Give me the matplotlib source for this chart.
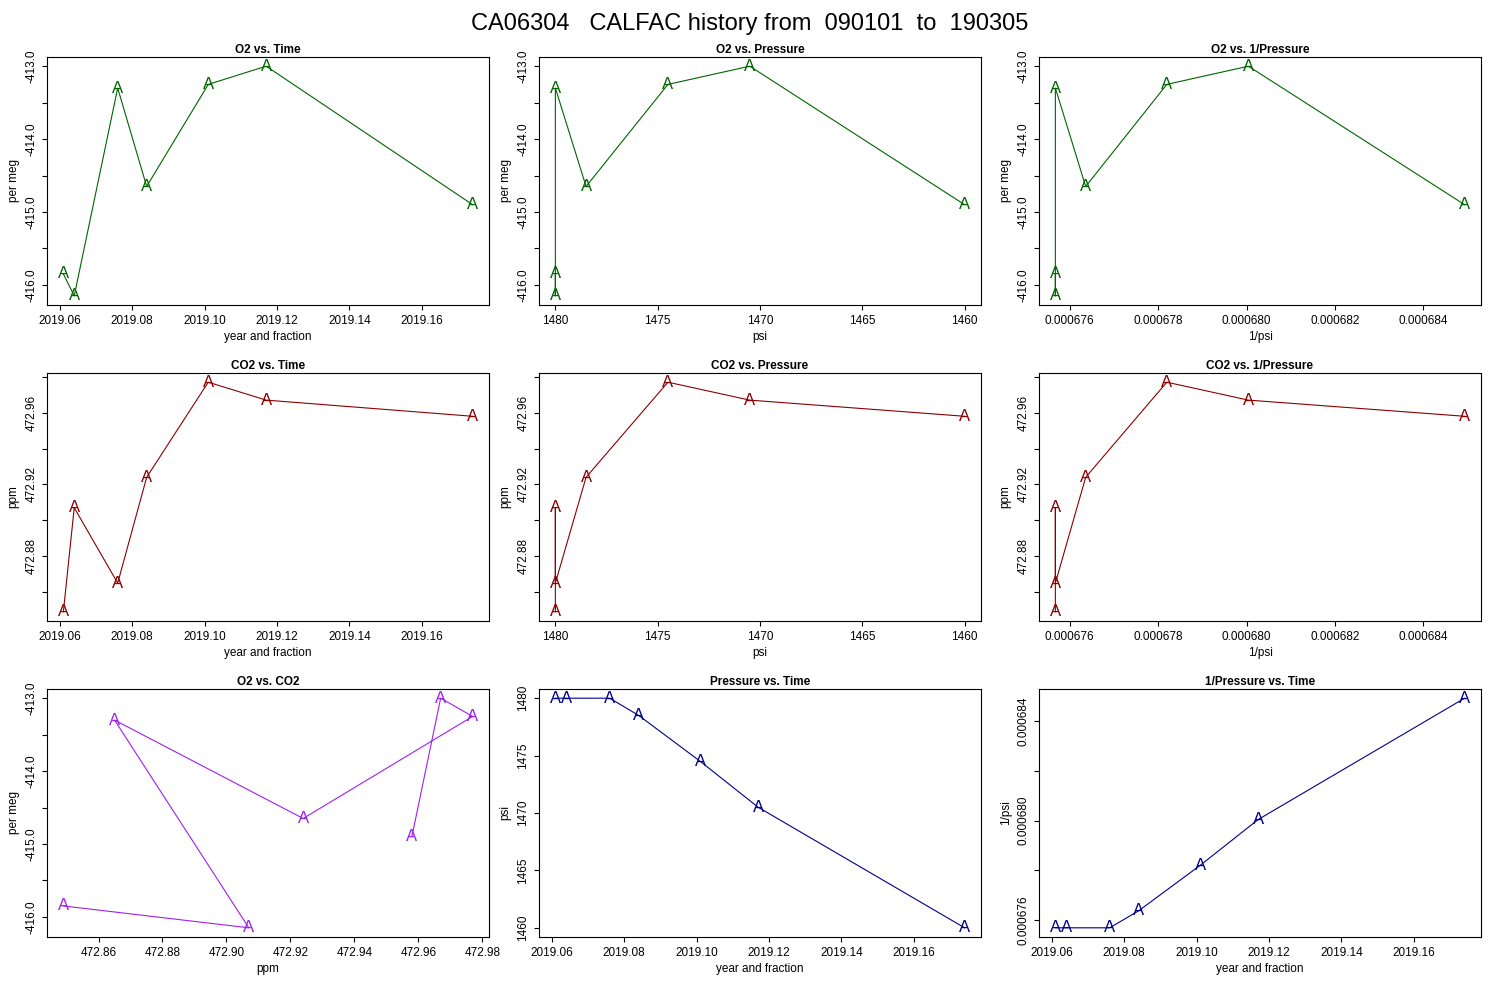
import numpy as np
import matplotlib
matplotlib.use('Agg')
import matplotlib.pyplot as plt
from matplotlib.ticker import MultipleLocator, FuncFormatter

plt.rcParams['font.family'] = ['Liberation Sans', 'DejaVu Sans']

# data
time = [2019.061, 2019.064, 2019.076, 2019.084, 2019.101, 2019.117, 2019.174]
o2 = [-415.85, -416.15, -413.3, -414.65, -413.25, -413.0, -414.9]
co2 = [472.849, 472.907, 472.865, 472.924, 472.977, 472.967, 472.958]
psi = [1480.0, 1480.0, 1480.0, 1478.5, 1474.5, 1470.5, 1460.0]
inv_psi = [1.0 / p for p in psi]

GREEN, RED, PURPLE, BLUE = '#006400', '#8B0000', '#A020F0', '#00008B'

fig = plt.figure(figsize=(15, 10), dpi=100)
fig.text(0.5, 0.987, 'CA06304   CALFAC history from  090101  to  190305',
         ha='center', va='top', fontsize=17)

lefts = [47, 539, 1039]
tops = [57, 373, 689]
W, H = 442, 248


def panel(r, c, x, y, color, title, xlabel, ylabel, yfmt, ymaj, ylab_every,
          xmaj, xfmt, reverse=False):
    ax = fig.add_axes([lefts[c] / 1500, 1 - (tops[r] + H) / 1000, W / 1500, H / 1000])
    ax.plot(x, y, color=color, lw=0.8)
    for xi, yi in zip(x, y):
        ax.text(xi, yi, 'A', color=color, fontsize=12, ha='center', va='center')
    ax.margins(0.04)
    if reverse:
        ax.invert_xaxis()
    ax.xaxis.set_major_locator(MultipleLocator(xmaj))
    ax.xaxis.set_major_formatter(FuncFormatter(xfmt))
    ax.yaxis.set_major_locator(MultipleLocator(ymaj))
    step = ymaj * ylab_every

    def yf(v, pos):
        k = round(v / step)
        if abs(v - k * step) > step * 1e-3:
            return ''
        return yfmt(v)
    ax.yaxis.set_major_formatter(FuncFormatter(yf))
    for lab in ax.get_yticklabels():
        lab.set_rotation(90)
    ax.tick_params(axis='y', labelrotation=90, labelsize=8.5)
    for lab in ax.get_yticklabels():
        lab.set_va('center')
    ax.tick_params(axis='x', labelsize=8.5)
    ax.set_title(title, fontsize=8.5, fontweight='bold', pad=3)
    ax.set_xlabel(xlabel, fontsize=8.5, labelpad=3)
    ax.set_ylabel(ylabel, fontsize=8.5)
    return ax


fy = lambda v, p=None: f'{v:.2f}'
fo2 = lambda v: f'{v:.1f}'
fco2 = lambda v: f'{v:.2f}'
fp = lambda v: f'{v:.0f}'
finv = lambda v: f'{v:.6f}'

panel(0, 0, time, o2, GREEN, 'O2 vs. Time', 'year and fraction', 'per meg', fo2, 0.5, 2, 0.02, fy)
panel(0, 1, psi, o2, GREEN, 'O2 vs. Pressure', 'psi', 'per meg', fo2, 0.5, 2, 5, lambda v, p: f'{v:.0f}', reverse=True)
panel(0, 2, inv_psi, o2, GREEN, 'O2 vs. 1/Pressure', '1/psi', 'per meg', fo2, 0.5, 2, 0.000002, lambda v, p: f'{v:.6f}')
panel(1, 0, time, co2, RED, 'CO2 vs. Time', 'year and fraction', 'ppm', fco2, 0.02, 2, 0.02, fy)
panel(1, 1, psi, co2, RED, 'CO2 vs. Pressure', 'psi', 'ppm', fco2, 0.02, 2, 5, lambda v, p: f'{v:.0f}', reverse=True)
panel(1, 2, inv_psi, co2, RED, 'CO2 vs. 1/Pressure', '1/psi', 'ppm', fco2, 0.02, 2, 0.000002, lambda v, p: f'{v:.6f}')
panel(2, 0, co2, o2, PURPLE, 'O2 vs. CO2', 'ppm', 'per meg', fo2, 0.5, 2, 0.02, fy)
panel(2, 1, time, psi, BLUE, 'Pressure vs. Time', 'year and fraction', 'psi', fp, 5, 1, 0.02, fy)
panel(2, 2, time, inv_psi, BLUE, '1/Pressure vs. Time', 'year and fraction', '1/psi', finv, 0.000002, 2, 0.02, fy)

fig.savefig('out.png', dpi=100)
